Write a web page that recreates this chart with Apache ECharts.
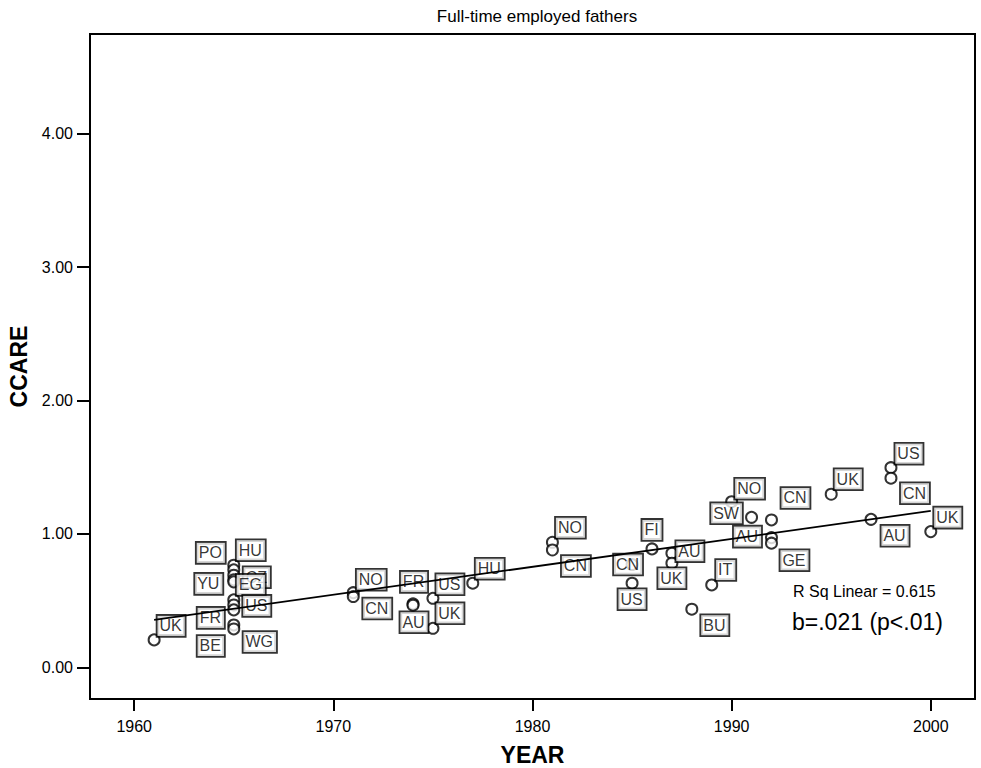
<!DOCTYPE html>
<html>
<head>
<meta charset="utf-8">
<script src="https://cdn.jsdelivr.net/npm/echarts@6/dist/echarts.min.js"></script>
<style>
html,body{margin:0;padding:0;background:#fff;}
#chart{width:981px;height:768px;}
</style>
</head>
<body>
<div id="chart"></div>
<script>
// ---- data ----
const countries = ['UK','HU','PO','CZ','YU','EG','US','','FR','WG','BE',
  'NO','CN','FR','AU','US','UK','HU',
  'NO','CN','CN','US','FI','AU','UK','BU','IT',
  'NO','SW','CN','AU','GE','UK','AU','US','CN','UK'];
const years = [1961,1965,1965,1965,1965,1965,1965,1965,1965,1965,1965,
  1971,1971,1974,1974,1975,1975,1977,
  1981,1981,1985,1985,1986,1987,1987,1988,1989,
  1990,1991,1992,1992,1992,1995,1997,1998,1998,2000];
const ccare = [0.205,0.765,0.73,0.69,0.655,0.64,0.505,0.467,0.43,0.317,0.287,
  0.559,0.53,0.475,0.465,0.517,0.292,0.63,
  0.937,0.879,0.77,0.63,0.887,0.855,0.78,0.435,0.617,
  1.241,1.124,1.104,0.972,0.93,1.297,1.109,1.496,1.417,1.017];
const fitYears = [1961, 2000];
const fitValues = [0.355, 1.172];
const xTicks = [1960, 1970, 1980, 1990, 2000];
const yTicks = [0, 1, 2, 3, 4];
const titleText = 'Full-time employed fathers';
const rsqText = 'R Sq Linear = 0.615';
const slopeText = 'b=.021 (p<.01)';

// ---- label placement (styling only) ----
const labelOffsets = [[17,-14],[17,-15],[-23,-17],[23,2],[-25,4],[17,3],[23,6],[0,0],[-23,8],[26,17],[-23,17],
  [18,-13],[24,12],[1,-22],[1,17],[17,-14],[17,-15],[17,-14.5],
  [18,-14.5],[23.5,16],[-4,0],[0,16],[0,-19],[18,-2],[0,15],[23,16],[14,-15],
  [18,-13],[-25,-4],[24,-22],[-24,-1],[23,17],[17,-15],[24,16.5],[18,-14],[24,15],[17,-14]];

const FONT = 'Arial, "Liberation Sans", sans-serif';

const scatterData = years.map((y, i) => ({
  name: countries[i],
  value: [y, ccare[i]],
  label: countries[i] ? { offset: labelOffsets[i] } : { show: false }
}));

const chart = echarts.init(document.getElementById('chart'), null, {renderer: 'svg'});
chart.setOption({
  animation: false,
  backgroundColor: '#fff',
  textStyle: { fontFamily: FONT },
  title: [
    { text: titleText, left: 532, top: 3, textAlign: 'center',
      textStyle: { fontSize: 17, fontWeight: 'normal', color: '#000', fontFamily: FONT } },
    { text: rsqText, left: 788, top: 578,
      textStyle: { fontSize: 16, fontWeight: 'normal', color: '#000', fontFamily: FONT } },
    { text: slopeText, left: 787, top: 605,
      textStyle: { fontSize: 23, fontWeight: 'normal', color: '#000', fontFamily: FONT } }
  ],
  grid: { left: 90, right: 6, top: 34, bottom: 69, show: true, borderColor: '#000', borderWidth: 2,
    backgroundColor: '#fff', containLabel: false, outerBoundsMode: 'none' },
  xAxis: {
    type: 'value', min: 1957.78, max: 2002.22,
    name: 'YEAR', nameLocation: 'middle', nameGap: 44,
    nameTextStyle: { fontSize: 23, fontWeight: 'bold', color: '#000', fontFamily: FONT },
    axisLine: { show: true, onZero: false, lineStyle: { color: '#000', width: 2 } },
    axisTick: { show: true, length: 12, inside: false, customValues: xTicks, lineStyle: { color: '#000', width: 2 } },
    axisLabel: { customValues: xTicks, fontSize: 16, color: '#000', margin: 19, fontFamily: FONT,
      formatter: v => String(Math.round(v)) },
    splitLine: { show: false }
  },
  yAxis: {
    type: 'value', min: -0.238, max: 4.747,
    name: 'CCARE', nameLocation: 'middle', nameGap: 56, nameRotate: 90,
    nameTextStyle: { fontSize: 23, fontWeight: 'bold', color: '#000', fontFamily: FONT },
    axisLine: { show: true, onZero: false, lineStyle: { color: '#000', width: 2 } },
    axisTick: { show: true, length: 13, inside: false, customValues: yTicks, lineStyle: { color: '#000', width: 2 } },
    axisLabel: { customValues: yTicks, fontSize: 16, color: '#000', margin: 17, fontFamily: FONT,
      formatter: v => v.toFixed(2) },
    splitLine: { show: false }
  },
  series: [
    {
      type: 'scatter', z: 2,
      symbol: 'circle', symbolSize: 11,
      itemStyle: { color: '#fff', borderColor: '#000', borderWidth: 2 },
      label: {
        show: true, position: 'inside', formatter: '{b}',
        color: '#000', fontSize: 16, fontFamily: FONT,
        backgroundColor: '#fff', borderColor: '#000', borderWidth: 1.8,
        padding: [2, 3, 1, 2], lineHeight: 17
      },
      emphasis: { disabled: true },
      data: scatterData
    },
    {
      type: 'line', z: 5, symbol: 'none', silent: true,
      lineStyle: { color: '#000', width: 1.8 },
      data: fitYears.map((y, i) => [y, fitValues[i]])
    }
  ]
});
</script>
</body>
</html>
